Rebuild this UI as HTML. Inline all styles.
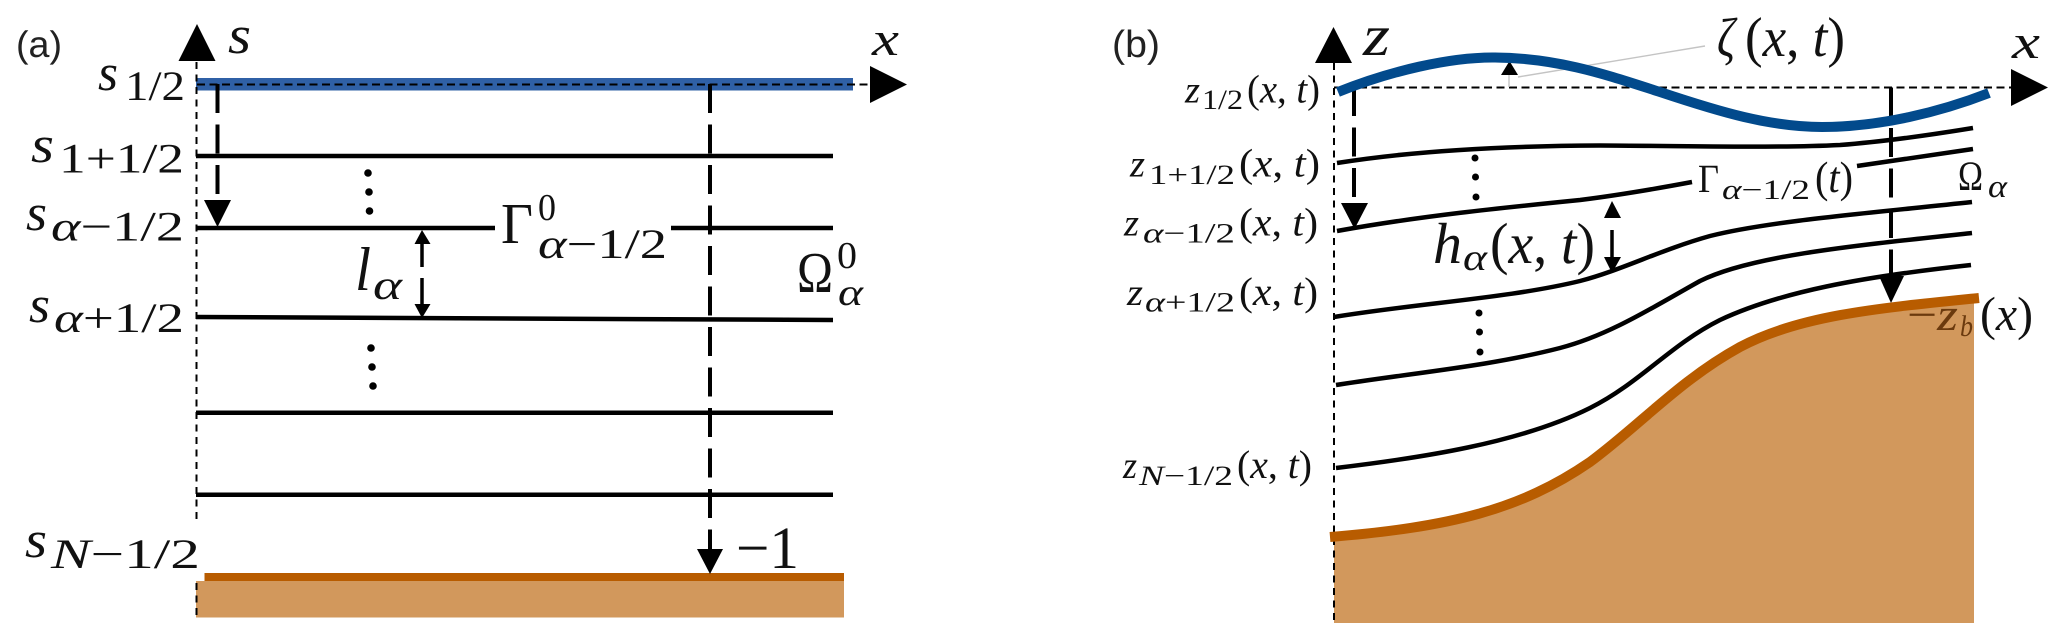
<!DOCTYPE html>
<html>
<head>
<meta charset="utf-8">
<style>
html,body{margin:0;padding:0;background:#fff;width:2067px;height:641px;overflow:hidden}
svg{display:block}
text{font-family:"Liberation Serif",serif;fill:#111;text-rendering:geometricPrecision}
.i{font-style:italic}
.r{font-style:normal}
.s{font-family:"Liberation Sans",sans-serif;fill:#222}
.ln{fill:none;stroke:#000;stroke-width:4.500}
.ax{fill:none;stroke:#000;stroke-width:2;stroke-dasharray:7 5.500}
.hx{fill:none;stroke:#000;stroke-width:2;stroke-dasharray:8 4.500}
.dr{fill:none;stroke:#000;stroke-width:4;stroke-dasharray:29 11.500}
</style>
</head>
<body>
<svg width="2067" height="641" viewBox="0 0 2067 641" xmlns="http://www.w3.org/2000/svg">
<rect width="2067" height="641" fill="#fff"/>

<!-- PANEL A -->
<rect x="196" y="581" width="648" height="36.500" fill="#d2985c"/>
<rect x="204.500" y="573" width="639.500" height="8" fill="#b85c00"/>
<rect x="196" y="78" width="657" height="12.500" fill="#2f60a6"/>
<path class="ax" d="M196.500 62V522"/>
<path class="ax" d="M196.500 583V617"/>
<path class="hx" d="M197 84.500H872"/>
<polygon points="197,24 178.500,61 215.500,61" fill="#000"/>
<polygon points="870,66 870,103 907,84.500" fill="#000"/>
<path class="ln" d="M196 156H833"/>
<path class="ln" d="M196 228H495"/>
<path class="ln" d="M671 228H833"/>
<path class="ln" d="M196 317L833 320"/>
<path class="ln" d="M196 412.700H833"/>
<path class="ln" d="M196 494.700H833"/>
<!-- left dashed arrow -->
<path class="dr" d="M217.500 84V201"/>
<polygon points="204,200 231,200 217.500,227" fill="#000"/>
<!-- right dashed arrow -->
<path class="dr" d="M710 84V550"/>
<polygon points="697,549 723,549 710,574" fill="#000"/>
<!-- double arrow -->
<path d="M422 244V267M422 278V305" fill="none" stroke="#000" stroke-width="3.500"/>
<polygon points="422,230 414.500,244 430.500,244" fill="#000"/>
<polygon points="422,318 414.500,304 430.500,304" fill="#000"/>
<!-- dots -->
<g fill="#000">
<circle cx="368" cy="173" r="3.800"/><circle cx="369" cy="192" r="3.800"/><circle cx="369.500" cy="211" r="3.800"/>
<circle cx="371" cy="348" r="3.800"/><circle cx="372" cy="367" r="3.800"/><circle cx="373" cy="386" r="3.800"/>
</g>

<text class="s" x="16" y="57" font-size="37" textLength="46" lengthAdjust="spacingAndGlyphs">(a)</text>
<text class="i" x="228" y="53" font-size="54" textLength="23" lengthAdjust="spacingAndGlyphs">s</text>
<text class="i" x="872" y="55" font-size="48" textLength="27" lengthAdjust="spacingAndGlyphs">x</text>

<text class="i" x="98" y="90" font-size="52" textLength="20" lengthAdjust="spacingAndGlyphs">s</text>
<text x="125" y="100" font-size="42" textLength="60" lengthAdjust="spacingAndGlyphs">1/2</text>

<text class="i" x="31" y="162" font-size="52" textLength="23" lengthAdjust="spacingAndGlyphs">s</text>
<text x="59" y="172.700" font-size="42" textLength="125" lengthAdjust="spacingAndGlyphs">1+1/2</text>

<text class="i" x="26" y="230" font-size="52" textLength="21" lengthAdjust="spacingAndGlyphs">s</text>
<text x="51" y="240.700" font-size="42" textLength="133" lengthAdjust="spacingAndGlyphs"><tspan class="i">α</tspan>−1/2</text>

<text class="i" x="29" y="322" font-size="52" textLength="21" lengthAdjust="spacingAndGlyphs">s</text>
<text x="54" y="332" font-size="42" textLength="130" lengthAdjust="spacingAndGlyphs"><tspan class="i">α</tspan>+1/2</text>

<text class="i" x="25" y="557" font-size="52" textLength="22" lengthAdjust="spacingAndGlyphs">s</text>
<text x="51" y="568" font-size="42" textLength="149" lengthAdjust="spacingAndGlyphs"><tspan class="i">N</tspan>−1/2</text>

<text x="501" y="243" font-size="58" textLength="32" lengthAdjust="spacingAndGlyphs">Γ</text>
<text x="538" y="220" font-size="38" textLength="18" lengthAdjust="spacingAndGlyphs">0</text>
<text x="538" y="258" font-size="42" textLength="129" lengthAdjust="spacingAndGlyphs"><tspan class="i">α</tspan>−1/2</text>

<text class="i" x="355" y="290" font-size="62" textLength="16" lengthAdjust="spacingAndGlyphs">l</text>
<text class="i" x="373" y="299" font-size="42" textLength="29" lengthAdjust="spacingAndGlyphs">α</text>

<text x="797" y="292" font-size="58" textLength="36" lengthAdjust="spacingAndGlyphs">Ω</text>
<text x="837" y="268" font-size="38" textLength="20" lengthAdjust="spacingAndGlyphs">0</text>
<text class="i" x="838" y="305" font-size="38" textLength="25" lengthAdjust="spacingAndGlyphs">α</text>

<text x="736" y="568" font-size="60" textLength="63" lengthAdjust="spacingAndGlyphs">−1</text>

<!-- PANEL B -->
<path d="M1334 537C1450 527 1520 510 1590 462C1640 425 1680 380 1740 347C1800 315 1880 308 1974 299V623H1334Z" fill="#d2985c"/>
<path class="ax" d="M1334 63V623"/>
<path class="hx" d="M1334 87.500H2012"/>
<polygon points="1333.500,27 1315,63 1352,63" fill="#000"/>
<polygon points="2011,69 2011,106 2048,87.500" fill="#000"/>

<!-- gray leader and small arrow -->
<path d="M1509 75V87" stroke="#bbb" stroke-width="1.200" fill="none"/>
<path d="M1518 77L1705 46" stroke="#c4c4c4" stroke-width="1.400" fill="none"/>
<polygon points="1509.500,61 1501,75 1518,75" fill="#000"/>

<!-- dashed arrows -->
<path class="dr" d="M1354 87V205"/>
<polygon points="1341,203 1368,203 1354.500,229" fill="#000"/>
<path class="dr" d="M1891 87.500V278"/>
<polygon points="1879,276 1904,276 1891,303" fill="#000"/>

<!-- layer lines -->
<path class="ln" d="M1337 163C1400 153 1480 146 1600 145.500C1700 146 1780 148 1840 145C1880 142 1930 135 1973 128"/>
<path class="ln" d="M1337 231C1420 216 1500 208 1580 200C1620 195 1660 188 1692 182"/>
<path class="ln" d="M1857 166L1973 149"/>
<path class="ln" d="M1334 317C1420 303 1510 298 1580 281C1622 270 1660 250 1710 236C1770 221 1870 213 1972 202"/>
<path class="ln" d="M1336 385C1420 372 1490 366 1560 348C1610 335 1655 306 1700 281C1750 256 1850 246 1972 233"/>
<path class="ln" d="M1336 468C1420 458 1520 443 1590 408C1640 383 1670 345 1720 320C1780 292 1860 277 1971 265"/>

<!-- bed line -->
<path d="M1330 537C1450 527 1520 510 1590 462C1640 425 1680 380 1740 347C1800 315 1880 308 1979 298" fill="none" stroke="#b85c00" stroke-width="10"/>

<!-- free surface -->
<path d="M1338 92C1390 71 1450 57 1495 57.500C1560 58 1610 76 1660 92C1720 112 1770 127 1822 127C1880 127 1940 112 1989 93" fill="none" stroke="#024a8c" stroke-width="10"/>

<!-- double arrow b -->
<path d="M1612 230V258" fill="none" stroke="#000" stroke-width="3.500"/>
<polygon points="1612,201 1604,218 1621,218" fill="#000"/>
<polygon points="1612,273 1604,257 1621,257" fill="#000"/>

<!-- dots b -->
<g fill="#000">
<circle cx="1475" cy="158" r="3.500"/><circle cx="1475.500" cy="177" r="3.500"/><circle cx="1476" cy="197" r="3.500"/>
<circle cx="1479" cy="313" r="3.500"/><circle cx="1479.500" cy="332" r="3.500"/><circle cx="1480" cy="352" r="3.500"/>
</g>

<text class="s" x="1112" y="57" font-size="38" textLength="48" lengthAdjust="spacingAndGlyphs">(b)</text>
<text class="i" x="1363" y="55" font-size="58" textLength="27" lengthAdjust="spacingAndGlyphs">z</text>
<text class="i" x="2012" y="58" font-size="48" textLength="28" lengthAdjust="spacingAndGlyphs">x</text>

<text class="i" x="1185" y="102.700" font-size="38" textLength="15" lengthAdjust="spacingAndGlyphs">z</text>
<text x="1202" y="109" font-size="28" textLength="41" lengthAdjust="spacingAndGlyphs">1/2</text>
<text x="1247" y="102.700" font-size="40" textLength="73" lengthAdjust="spacingAndGlyphs">(<tspan class="i">x</tspan>, <tspan class="i">t</tspan>)</text>

<text class="i" x="1130" y="176.700" font-size="38" textLength="15" lengthAdjust="spacingAndGlyphs">z</text>
<text x="1149" y="184" font-size="28" textLength="86" lengthAdjust="spacingAndGlyphs">1+1/2</text>
<text x="1239" y="176.700" font-size="40" textLength="81" lengthAdjust="spacingAndGlyphs">(<tspan class="i">x</tspan>, <tspan class="i">t</tspan>)</text>

<text class="i" x="1124" y="235.700" font-size="38" textLength="15" lengthAdjust="spacingAndGlyphs">z</text>
<text x="1143" y="242.700" font-size="28" textLength="92" lengthAdjust="spacingAndGlyphs"><tspan class="i">α</tspan>−1/2</text>
<text x="1239" y="235.700" font-size="40" textLength="79" lengthAdjust="spacingAndGlyphs">(<tspan class="i">x</tspan>, <tspan class="i">t</tspan>)</text>

<text class="i" x="1127" y="305" font-size="38" textLength="16" lengthAdjust="spacingAndGlyphs">z</text>
<text x="1145" y="311.700" font-size="28" textLength="90" lengthAdjust="spacingAndGlyphs"><tspan class="i">α</tspan>+1/2</text>
<text x="1239" y="305" font-size="40" textLength="79" lengthAdjust="spacingAndGlyphs">(<tspan class="i">x</tspan>, <tspan class="i">t</tspan>)</text>

<text class="i" x="1123" y="478" font-size="38" textLength="14" lengthAdjust="spacingAndGlyphs">z</text>
<text x="1139" y="485" font-size="28" textLength="94" lengthAdjust="spacingAndGlyphs"><tspan class="i">N</tspan>−1/2</text>
<text x="1237" y="478" font-size="40" textLength="75" lengthAdjust="spacingAndGlyphs">(<tspan class="i">x</tspan>, <tspan class="i">t</tspan>)</text>

<text class="i" x="1433" y="263" font-size="58" textLength="29" lengthAdjust="spacingAndGlyphs">h</text>
<text class="i" x="1463" y="270" font-size="38" textLength="24" lengthAdjust="spacingAndGlyphs">α</text>
<text x="1490" y="263" font-size="58" textLength="105" lengthAdjust="spacingAndGlyphs">(<tspan class="i">x</tspan>, <tspan class="i">t</tspan>)</text>

<text class="i" x="1717" y="56" font-size="55" textLength="18" lengthAdjust="spacingAndGlyphs">ζ</text>
<text x="1745" y="56" font-size="56" textLength="100" lengthAdjust="spacingAndGlyphs">(<tspan class="i">x</tspan>, <tspan class="i">t</tspan>)</text>

<text x="1698" y="192" font-size="40" textLength="21" lengthAdjust="spacingAndGlyphs">Γ</text>
<text x="1722" y="199" font-size="28" textLength="88" lengthAdjust="spacingAndGlyphs"><tspan class="i">α</tspan>−1/2</text>
<text x="1815" y="192" font-size="44" textLength="38" lengthAdjust="spacingAndGlyphs">(<tspan class="i">t</tspan>)</text>

<text x="1958" y="190" font-size="42" textLength="25" lengthAdjust="spacingAndGlyphs">Ω</text>
<text class="i" x="1988" y="197" font-size="32" textLength="19" lengthAdjust="spacingAndGlyphs">α</text>

<text x="1907" y="330" font-size="46" textLength="51" lengthAdjust="spacingAndGlyphs" style="fill:#6b3a0e">−<tspan class="i">z</tspan></text>
<text class="i" x="1960" y="336" font-size="30" textLength="13" lengthAdjust="spacingAndGlyphs" style="fill:#6b3a0e">b</text>
<text x="1980" y="330" font-size="48" textLength="53" lengthAdjust="spacingAndGlyphs">(<tspan class="i">x</tspan>)</text>
</svg>
</body>
</html>
